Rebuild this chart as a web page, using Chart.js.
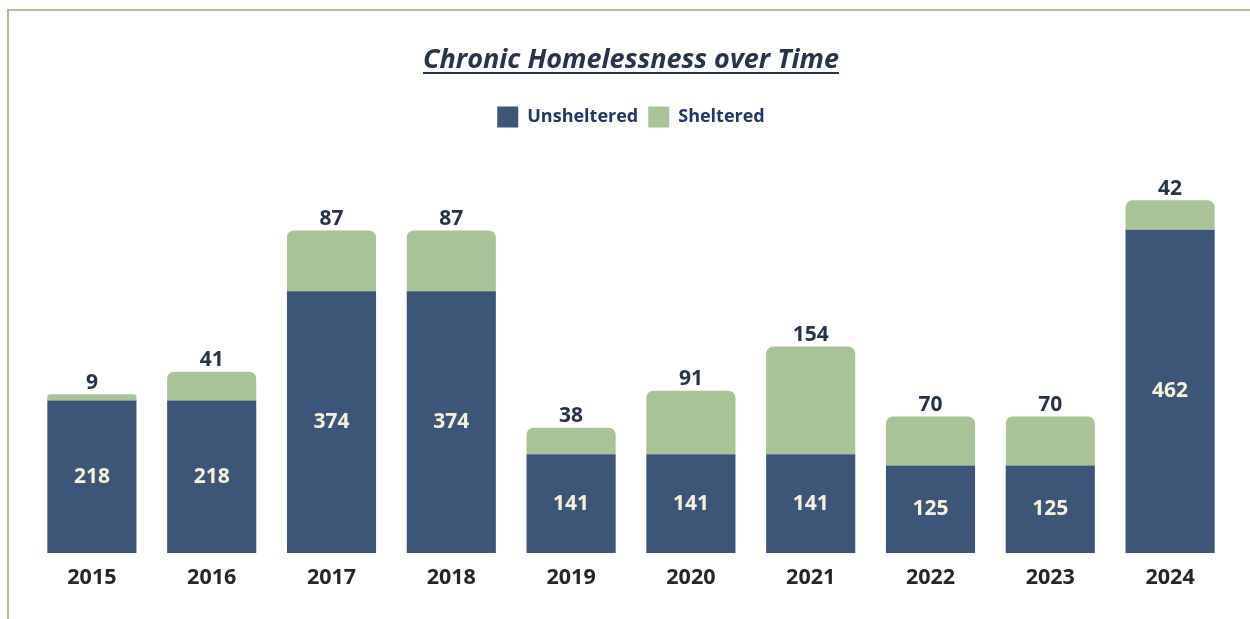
<!DOCTYPE html>
<html>
<head>
<meta charset="utf-8">
<script src="https://cdn.jsdelivr.net/npm/chart.js@4.4.0/dist/chart.umd.min.js"></script>
<style>
  html, body { margin: 0; padding: 0; background: #ffffff; }
  #marco {
    position: absolute; left: 7px; top: 9px; width: 1243px; height: 610px;
    border-top: 2px solid #a9c495; border-left: 2px solid #a9c495;
    box-sizing: border-box;
  }
  #caja { position: absolute; left: 0; top: 0; width: 1250px; height: 619px; }
</style>
</head>
<body>
<div id="marco"></div>
<div id="caja"><canvas id="grafico"></canvas></div>
<script>
// Datos del gráfico
const anios = ["2015", "2016", "2017", "2018", "2019", "2020", "2021", "2022", "2023", "2024"];
const sinRefugio = [218, 218, 374, 374, 141, 141, 141, 125, 125, 462];
const conRefugio = [9, 41, 87, 87, 38, 91, 154, 70, 70, 42];

const colorAzul = "#3c5679";
const colorVerde = "#a8c496";
const fuenteTitulo = "italic bold 27px 'Open Sans'";

// Subrayado del título
const subrayado = {
  id: "subrayado",
  afterDraw(chart) {
    const t = chart.titleBlock;
    if (!t || !t._padding) return;
    const ctx = chart.ctx;
    ctx.save();
    ctx.font = fuenteTitulo;
    const texto = chart.options.plugins.title.text;
    const ancho = ctx.measureText(texto).width;
    const cx = (chart.chartArea.left + chart.chartArea.right) / 2;
    const y = t.top + t._padding.top + 28;
    ctx.fillStyle = "#263548";
    ctx.fillRect(cx - ancho / 2, y, ancho, 2);
    ctx.restore();
  },
};

// Etiquetas de valores sobre y dentro de las barras
const etiquetas = {
  id: "etiquetas",
  afterDatasetsDraw(chart) {
    const ctx = chart.ctx;
    ctx.save();
    ctx.font = "bold 21px 'Open Sans'";
    ctx.textAlign = "center";
    chart.getDatasetMeta(0).data.forEach((barra, i) => {
      ctx.fillStyle = "#f6f1dc";
      ctx.textBaseline = "middle";
      ctx.fillText(sinRefugio[i], barra.x, (barra.y + barra.base) / 2);
    });
    chart.getDatasetMeta(1).data.forEach((barra, i) => {
      ctx.fillStyle = "#253447";
      ctx.textBaseline = "bottom";
      ctx.fillText(conRefugio[i], barra.x, barra.y - 1);
    });
    ctx.restore();
  },
};

const ctx = document.getElementById("grafico").getContext("2d");
new Chart(ctx, {
  type: "bar",
  data: {
    labels: anios,
    datasets: [
      {
        label: "Unsheltered",
        data: sinRefugio,
        backgroundColor: colorAzul,
        categoryPercentage: 0.8,
        barPercentage: 0.93,
      },
      {
        label: "Sheltered",
        data: conRefugio,
        backgroundColor: colorVerde,
        borderRadius: { topLeft: 7, topRight: 7 },
        borderSkipped: "start",
        categoryPercentage: 0.8,
        barPercentage: 0.93,
      },
    ],
  },
  options: {
    responsive: true,
    maintainAspectRatio: false,
    animation: false,
    layout: { padding: { top: 0, left: 32, right: 20, bottom: 0 } },
    plugins: {
      title: {
        display: true,
        text: "Chronic Homelessness over Time",
        color: "#263548",
        font: { family: "'Open Sans'", size: 27, weight: "bold", style: "italic" },
        padding: { top: 44, bottom: 20 },
      },
      legend: {
        display: true,
        labels: {
          boxWidth: 21,
          boxHeight: 21,
          color: "#1f3864",
          font: { family: "'Open Sans'", size: 18, weight: "bold" },
          padding: 10,
        },
      },
      tooltip: { enabled: false },
    },
    scales: {
      x: {
        stacked: true,
        grid: { display: false, drawTicks: false },
        border: { display: false },
        ticks: {
          color: "#262626",
          padding: 12,
          font: { family: "'Open Sans'", size: 21.5, weight: "bold" },
        },
        afterFit(escala) { escala.height = 66; },
      },
      y: {
        stacked: true,
        display: false,
        min: 0,
        max: 594,
      },
    },
  },
  plugins: [subrayado, etiquetas],
});
</script>
</body>
</html>
